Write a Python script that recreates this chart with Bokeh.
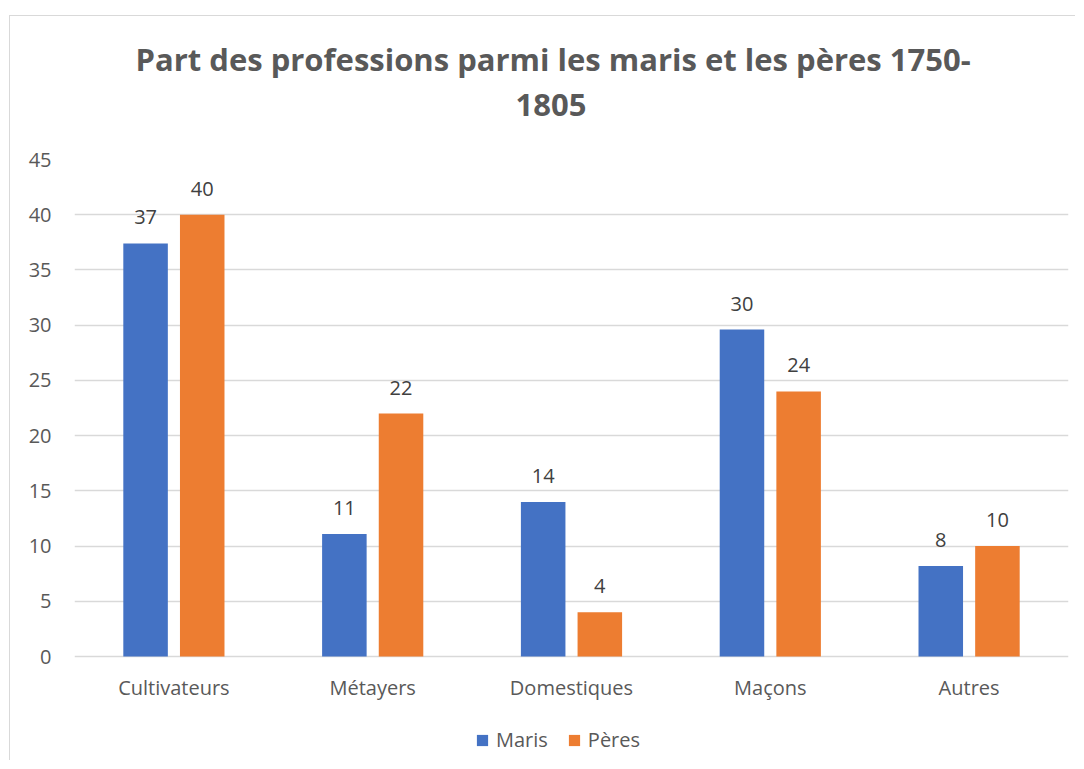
from bokeh.plotting import figure
from bokeh.models import (FactorRange, Range1d, ColumnDataSource, Legend, LegendItem,
                          Title, FixedTicker)
from bokeh.transform import dodge
from bokeh.core.properties import value
from bokeh.embed import file_html
from bokeh.resources import INLINE

categories = ["Cultivateurs", "Métayers", "Domestiques", "Maçons", "Autres"]
maris = [37.4, 11.1, 14.0, 29.6, 8.2]
peres = [40.0, 22.0, 4.0, 24.0, 10.0]
maris_labels = ["37", "11", "14", "30", "8"]
peres_labels = ["40", "22", "4", "24", "10"]
y_ticks = [0, 5, 10, 15, 20, 25, 30, 35, 40, 45]
title_line1 = "Part des professions parmi les maris et les pères 1750-"
title_line2 = "1805"
series_names = ["Maris", "Pères"]
colors = ["#4472C4", "#ED7D31"]

FONT = "Open Sans"

# layout in pixels: value axis 0..45 spans 497 px, 105 px kept below 0 for labels/legend
Y_MAX = 45
PX_PER_UNIT = 497 / Y_MAX
Y_MIN = -105 / PX_PER_UNIT

source = ColumnDataSource(dict(cat=categories, maris=maris, peres=peres,
                               ml=maris_labels, pl=peres_labels))

p = figure(x_range=FactorRange(*categories), y_range=Range1d(Y_MIN, Y_MAX),
           width=1066, height=745, output_backend="svg", toolbar_location=None,
           min_border_left=64, min_border_right=8, min_border_top=143,
           min_border_bottom=0)
p.styles = {"border-left": "1px solid #d9d9d9", "border-top": "1px solid #d9d9d9",
            "margin-left": "9px", "margin-top": "15px"}
p.outline_line_color = None
p.background_fill_color = "white"
p.border_fill_color = "white"

r1 = p.vbar(x=dodge("cat", -0.1425, range=p.x_range), top="maris", width=0.224,
            source=source, fill_color=colors[0], line_color=None)
r2 = p.vbar(x=dodge("cat", 0.1425, range=p.x_range), top="peres", width=0.224,
            source=source, fill_color=colors[1], line_color=None)

for col, lab, dx in (("maris", "ml", -0.1425), ("peres", "pl", 0.1425)):
    p.text(x=dodge("cat", dx, range=p.x_range), y=col, text=lab, source=source,
           text_align="center", text_baseline="alphabetic", y_offset=-26,
           text_font=value(FONT), text_font_size="20px", text_color="#404040")

p.xgrid.grid_line_color = None
p.ygrid.grid_line_color = "#d9d9d9"
p.ygrid.grid_line_width = 1.3
p.yaxis.ticker = FixedTicker(ticks=y_ticks)
p.xaxis.fixed_location = 0
for ax in (p.xaxis, p.yaxis):
    ax.axis_line_color = None
    ax.major_tick_line_color = None
    ax.minor_tick_line_color = None
    ax.major_tick_out = 0
    ax.major_tick_in = 0
    ax.minor_tick_out = 0
    ax.major_label_text_font = FONT
    ax.major_label_text_font_size = "20px"
    ax.major_label_text_color = "#595959"
p.yaxis.major_label_standoff = 23
p.xaxis.major_label_standoff = 17

t2 = Title(text=title_line2, align="left", text_font=FONT, text_font_size="31px",
           text_font_style="bold", text_color="#595959", standoff=87, offset=441,
           text_line_height=1.0)
t1 = Title(text=title_line1, align="left", text_font=FONT, text_font_size="31px",
           text_font_style="bold", text_color="#595959", standoff=-63, offset=61,
           text_line_height=1.0)
p.add_layout(t2, "above")
p.add_layout(t1, "above")

legend = Legend(items=[LegendItem(label=series_names[0], renderers=[r1]),
                       LegendItem(label=series_names[1], renderers=[r2])],
                orientation="horizontal", location=(401, 8),
                glyph_width=14, glyph_height=14, label_standoff=7, spacing=19,
                label_text_font=FONT, label_text_font_size="20px",
                label_text_color="#595959", border_line_color=None,
                background_fill_alpha=0, padding=0, margin=0)
p.add_layout(legend)

open("out.html", "w").write(file_html(p, INLINE))
